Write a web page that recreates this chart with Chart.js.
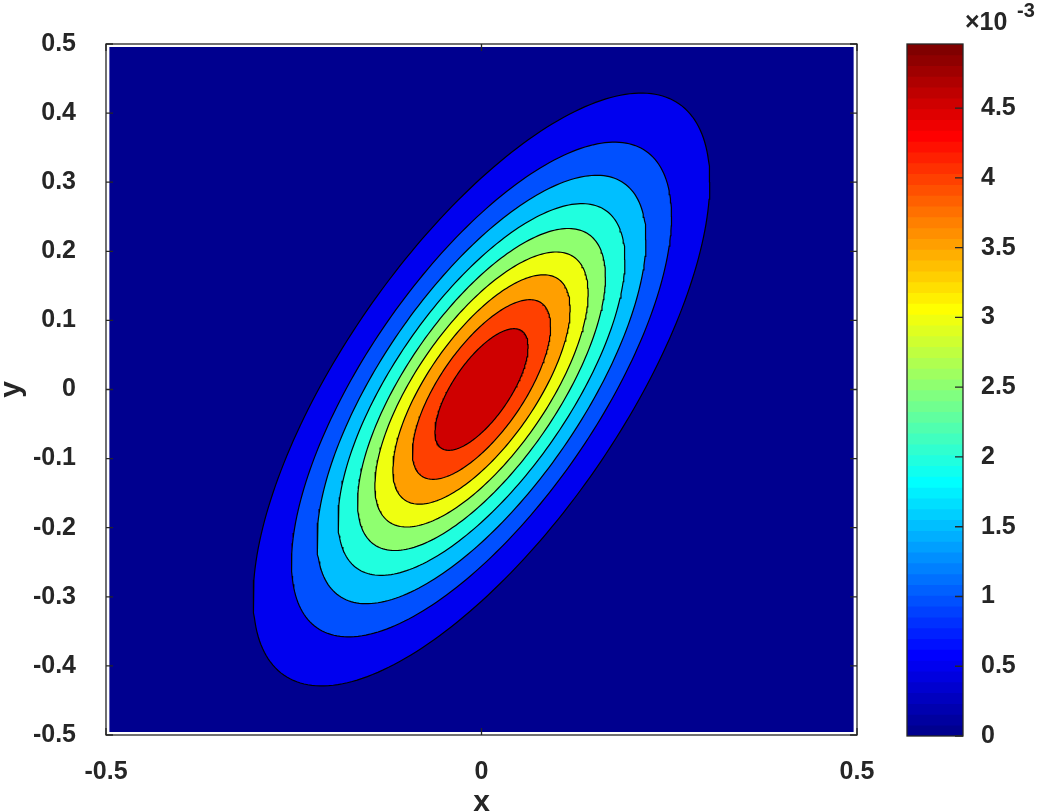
<!DOCTYPE html>
<html>
<head>
<meta charset="utf-8">
<script src="https://cdn.jsdelivr.net/npm/chart.js@4.4.1/dist/chart.umd.min.js"></script>
<style>
    body { margin: 0; background: #ffffff; }
    #wrap { position: relative; width: 1038px; height: 812px; }
    #main { position: absolute; left: 0; top: 0; }
    #bar { position: absolute; left: 880px; top: 0; }
</style>
</head>
<body>
<div id="wrap">
    <canvas id="main" width="1038" height="812"></canvas>
    <canvas id="bar" width="158" height="812"></canvas>
</div>
<script>
// contour levels (units of 1e-3) and the half extents of each contour
const levels = [0.5, 1, 1.5, 2, 2.5, 3, 3.5, 4, 4.5];
const halfX = [0.304, 0.253, 0.219, 0.191, 0.165, 0.142, 0.118, 0.092, 0.062];
const halfY = [0.429, 0.358, 0.310, 0.269, 0.233, 0.199, 0.166, 0.130, 0.088];
const tilt = 0.70;        // how far the top point sits to the right (fraction of halfX)
const centre = [0, 0];
const dataEdge = 0.4955;  // filled grid stops a hair inside the axes box

const xTicks = [-0.5, 0, 0.5];
const xTickLabels = ['-0.5', '0', '0.5'];
const yTicks = [-0.5, -0.4, -0.3, -0.2, -0.1, 0, 0.1, 0.2, 0.3, 0.4, 0.5];
const yTickLabels = ['-0.5', '-0.4', '-0.3', '-0.2', '-0.1', '0', '0.1', '0.2', '0.3', '0.4', '0.5'];

const cMax = 4.96;        // top of colour scale, units of 1e-3
const cbTicks = [0, 0.5, 1, 1.5, 2, 2.5, 3, 3.5, 4, 4.5];
const cbTickLabels = ['0', '0.5', '1', '1.5', '2', '2.5', '3', '3.5', '4', '4.5'];

const INK = '#262626';
const FONT = 'Liberation Sans, Arial, Helvetica, sans-serif';

// matlab jet(64)
function jet(i) {
    const n = 16;
    const u = [];
    for (let k = 1; k <= n; k++) u.push(k / n);
    for (let k = 1; k < n; k++) u.push(1);
    for (let k = n; k >= 1; k--) u.push(k / n);
    const pick = k => (k >= 1 && k <= u.length) ? u[k - 1] : 0;
    const row = i + 1;
    const r = pick(row - 24), g = pick(row - 8), b = pick(row + 8);
    return 'rgb(' + Math.round(r * 255) + ',' + Math.round(g * 255) + ',' + Math.round(b * 255) + ')';
}

function colourFor(v) {
    let idx = Math.floor(v / cMax * 64);
    if (idx < 0) idx = 0;
    if (idx > 63) idx = 63;
    return jet(idx);
}

function contourPoints(a, b) {
    const pts = [];
    const s = Math.sqrt(1 - tilt * tilt);
    const N = 240;
    for (let k = 0; k <= N; k++) {
        const t = k / N * Math.PI * 2;
        pts.push({
            x: centre[0] + a * Math.cos(t),
            y: centre[1] + b * (tilt * Math.cos(t) + s * Math.sin(t))
        });
    }
    return pts;
}

const datasets = [];
datasets.push({
    data: [
        {x: -dataEdge, y: -dataEdge}, {x: dataEdge, y: -dataEdge},
        {x: dataEdge, y: dataEdge}, {x: -dataEdge, y: dataEdge}, {x: -dataEdge, y: -dataEdge}
    ],
    showLine: true,
    fill: 'shape',
    backgroundColor: colourFor(0),
    borderWidth: 0,
    pointRadius: 0,
    order: 50
});
for (let i = 0; i < levels.length; i++) {
    datasets.push({
        data: contourPoints(halfX[i], halfY[i]),
        showLine: true,
        fill: 'shape',
        backgroundColor: colourFor(levels[i]),
        borderColor: '#000000',
        borderWidth: 1.2,
        pointRadius: 0,
        tension: 0,
        order: levels.length - i
    });
}

const tickFont = {family: FONT, size: 25, weight: 'bold'};

const boxPlugin = {
    id: 'box',
    afterDatasetsDraw(chart) {
        const {ctx, chartArea: a, scales} = chart;
        ctx.save();
        ctx.strokeStyle = INK;
        ctx.lineWidth = 1.3;
        ctx.strokeRect(a.left, a.top, a.right - a.left, a.bottom - a.top);
        ctx.beginPath();
        for (const v of yTicks) {
            const py = scales.y.getPixelForValue(v);
            ctx.moveTo(a.left, py); ctx.lineTo(a.left + 7, py);
            ctx.moveTo(a.right, py); ctx.lineTo(a.right - 7, py);
        }
        for (const v of xTicks) {
            const px = scales.x.getPixelForValue(v);
            ctx.moveTo(px, a.bottom); ctx.lineTo(px, a.bottom - 7);
            ctx.moveTo(px, a.top); ctx.lineTo(px, a.top + 7);
        }
        ctx.stroke();
        ctx.restore();
    }
};

new Chart(document.getElementById('main'), {
    type: 'scatter',
    data: {datasets},
    options: {
        responsive: false,
        animation: false,
        events: [],
        layout: {padding: {top: 44, right: 181, left: 0, bottom: 0}},
        plugins: {
            legend: {display: false},
            tooltip: {enabled: false},
            filler: {propagate: false}
        },
        scales: {
            x: {
                type: 'linear',
                min: -0.5,
                max: 0.5,
                grid: {display: false},
                border: {display: false},
                afterBuildTicks: s => { s.ticks = xTicks.map(v => ({value: v})); },
                afterFit: s => { s.height = 77; },
                ticks: {
                    padding: 14,
                    maxRotation: 0,
                    autoSkip: false,
                    color: INK,
                    font: tickFont,
                    callback: (v, i) => xTickLabels[i]
                },
                title: {
                    display: true,
                    text: 'x',
                    color: INK,
                    padding: 0,
                    font: {family: FONT, size: 30, weight: 'bold', lineHeight: 0.6}
                }
            },
            y: {
                type: 'linear',
                min: -0.5,
                max: 0.5,
                grid: {display: false},
                border: {display: false},
                afterBuildTicks: s => { s.ticks = yTicks.map(v => ({value: v})); },
                afterFit: s => { s.width = 106; },
                ticks: {
                    padding: 22,
                    autoSkip: false,
                    color: INK,
                    font: tickFont,
                    callback: (v, i) => yTickLabels[i]
                },
                title: {
                    display: true,
                    text: 'y',
                    color: INK,
                    padding: 0,
                    font: {family: FONT, size: 30, weight: 'bold', lineHeight: 0.75}
                }
            }
        }
    },
    plugins: [boxPlugin]
});

// colour bar
const bandSize = cMax / 64;
const cbDatasets = [];
for (let i = 0; i < 64; i++) {
    const lo = bandSize * i;
    const hi = i < 63 ? bandSize * (i + 1) + bandSize * 0.3 : cMax;
    cbDatasets.push({
        data: [[lo, hi]],
        backgroundColor: jet(i),
        borderWidth: 0,
        grouped: false,
        barPercentage: 1,
        categoryPercentage: 1,
        order: 64 - i
    });
}

const cbPlugin = {
    id: 'cbBox',
    afterDatasetsDraw(chart) {
        const {ctx, chartArea: a, scales} = chart;
        ctx.save();
        ctx.strokeStyle = INK;
        ctx.lineWidth = 1.3;
        ctx.strokeRect(a.left, a.top, a.right - a.left, a.bottom - a.top);
        ctx.beginPath();
        for (const v of cbTicks) {
            const py = scales.y.getPixelForValue(v);
            ctx.moveTo(a.right, py); ctx.lineTo(a.right - 8, py);
        }
        ctx.stroke();
        // exponent label
        ctx.fillStyle = INK;
        ctx.textBaseline = 'alphabetic';
        ctx.textAlign = 'left';
        ctx.font = 'bold 25px ' + FONT;
        ctx.fillText('\u00d710', 85, 30);
        ctx.font = 'bold 20px ' + FONT;
        ctx.fillText('-3', 137, 17);
        ctx.restore();
    }
};

new Chart(document.getElementById('bar'), {
    type: 'bar',
    data: {labels: [''], datasets: cbDatasets},
    options: {
        responsive: false,
        animation: false,
        events: [],
        layout: {padding: {left: 27, top: 44, bottom: 76, right: 0}},
        plugins: {legend: {display: false}, tooltip: {enabled: false}},
        scales: {
            x: {display: false},
            y: {
                position: 'right',
                min: 0,
                max: cMax,
                grid: {display: false},
                border: {display: false},
                afterBuildTicks: s => { s.ticks = cbTicks.map(v => ({value: v})); },
                afterFit: s => { s.width = 75; },
                ticks: {
                    padding: 10,
                    autoSkip: false,
                    color: INK,
                    font: tickFont,
                    callback: (v, i) => cbTickLabels[i]
                }
            }
        }
    },
    plugins: [cbPlugin]
});
</script>
</body>
</html>
